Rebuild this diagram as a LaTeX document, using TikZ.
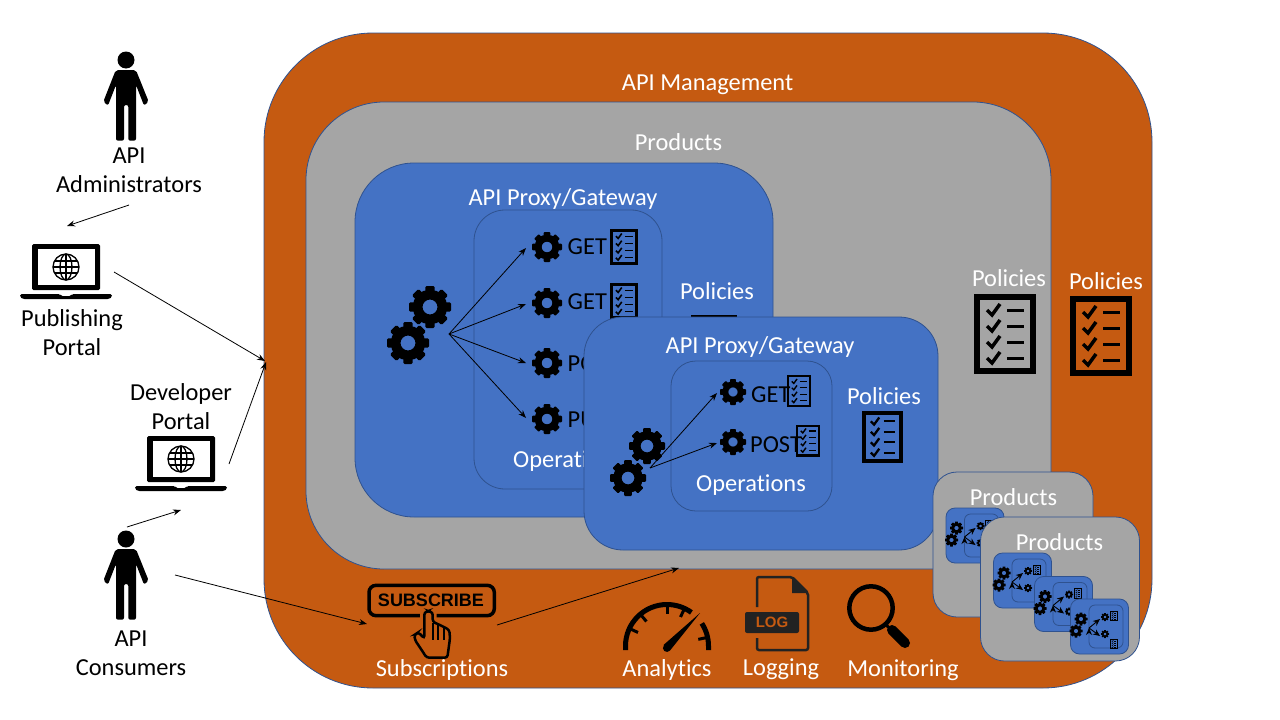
\documentclass[tikz,border=0pt]{standalone}
\usepackage{fontspec}
\setmainfont{Carlito}[Ligatures=NoCommon]
\newfontfamily\iconfont{Liberation Sans}
\usetikzlibrary{arrows.meta}
\definecolor{mgmtorange}{HTML}{C55A11}
\definecolor{productgray}{HTML}{A5A5A5}
\definecolor{proxyblue}{HTML}{4472C4}
\definecolor{edgeblue}{HTML}{2F528F}
\definecolor{logblack}{HTML}{222222}
\tikzset{
	panel/.style={draw=edgeblue, line width=0.8pt, inner sep=0pt, outer sep=0pt},
	whitetext/.style={text=white, inner sep=0pt, align=center, font=\fontsize{24.4}{29}\selectfont},
	blacktext/.style={text=black, inner sep=0pt, align=center, font=\fontsize{24.4}{29}\selectfont},
	wire/.style={->, line width=0.8pt},
	pics/cog/.style={code={
		\draw[line width=#1*0.46pt] (0,0) circle[radius=0.59*#1];
		\foreach \a in {0,45,...,315}
			\fill[rotate=\a, rounded corners=#1*0.06pt] (-0.22*#1,0.7*#1) rectangle (0.22*#1,#1);
	}},
	pics/policy/.style={code={
		\begin{scope}[scale=#1]
			\draw[line width=#1*6pt] (-28,-37) rectangle (28,37);
			\foreach \y in {-24,-8,8,24} {
				\draw[line width=#1*3.5pt] (-18,\y) -- (-13,\y-5) -- (-5,\y+6);
				\draw[line width=#1*3pt] (2,\y) -- (19,\y);
			}
		\end{scope}
	}},
	pics/person/.style={code={
		\fill (0,40) circle[radius=8.5];
		\fill[rounded corners=2pt] (-10.3,29.8) -- (10,29.8) -- (22.7,-1.7) -- (18,-5.5) -- (10,15) -- (10,-40.7)
			-- (2.3,-40.7) -- (2.3,-5) -- (-2,-5) -- (-2,-40.7) -- (-10,-40.7) -- (-10,15) -- (-18,-5.5) -- (-22.7,-1.7) -- cycle;
	}},
	pics/laptop/.style={code={
		\fill[rounded corners=1.5pt] (-34,26) rectangle (34,-20);
		\fill[white] (-28.5,21) rectangle (28.5,-14.5);
		\fill[rounded corners=1.5pt] (-46,-24) -- (-6,-24) -- (-5,-26) -- (5,-26) -- (6,-24) -- (46,-24) -- (46,-27) -- (43,-29) -- (-43,-29) -- (-46,-27) -- cycle;
		\draw[line width=1.3pt] (0,3) circle[radius=13];
		\draw[line width=1.3pt] (0,3) ellipse[x radius=6, y radius=13];
		\draw[line width=1.3pt] (-13,3) -- (13,3) (0,16) -- (0,-10) (-11,9) -- (11,9) (-11,-3) -- (11,-3);
	}},
	pics/minicard/.style={code={
		\node[panel, fill=proxyblue, rounded corners=9pt, minimum width=58pt, minimum height=55pt] (-card) at (0,0) {};
		\node[panel, rounded corners=6pt, minimum width=34pt, minimum height=43pt] (-ops) at (6.5,0) {};
		\pic at (-18.5,7.5) {cog=6.5};
		\pic at (-23.5,-4.5) {cog=6.5};
		\pic at (5.5,9.5) {cog=4};
		\pic at (5.5,-7.5) {cog=4};
		\pic at (14.5,10.5) {policy=0.13};
		\coordinate (-hub) at (-10.5,-1.5);
		\coordinate (-up) at (0.5,7.5);
		\coordinate (-down) at (0.5,-9.5);
		\draw[->, >={Stealth[width=6pt,length=7pt]}, line width=0.9pt] (-hub) edge (-up) edge (-down);
	}}
}

\begin{document}
\begin{tikzpicture}[x=1pt, y=1pt, >={Stealth[width=6pt,length=8pt]}]
	\useasboundingbox (0,0) rectangle (1280,-720);
	\fill[white] (0,0) rectangle (1280,-720);
	% panels
	\node[panel, fill=mgmtorange, rounded corners=109pt, minimum width=888pt, minimum height=655pt] (mgmt) at (708,-360.5) {};
	\node[panel, fill=productgray, rounded corners=78pt, minimum width=745pt, minimum height=467pt] (products) at (678.5,-335.5) {};
	\node[whitetext] (mgmttitle) at (707.5,-85) {API Management};
	\node[whitetext] (productstitle) at (678.5,-142) {Products};
	\node[whitetext] (orangepolicies) at (1106,-281) {Policies};
	\node[whitetext] (graypolicies) at (1009,-278) {Policies};
	\pic at (1005,-334) {policy=1};
	\pic at (1101,-336) {policy=1};

	% first proxy
	\node[panel, fill=proxyblue, rounded corners=59pt, minimum width=418pt, minimum height=354pt] (proxyA) at (564,-340) {};
	\node[panel, rounded corners=31pt, minimum width=188pt, minimum height=279pt] (opsA) at (568,-349.5) {};
	\node[whitetext] (proxyAtitle) at (563,-199) {API Proxy/Gateway};
	\node[whitetext] (opsAtitle) at (568,-461) {Operations};
	\node[whitetext] (policiesA) at (717,-291) {Policies};
	\pic at (714,-345) {policy=0.74};
	\pic at (430,-307) {cog=21};
	\pic at (408,-343) {cog=21};
	\draw (449,-334) coordinate(hubA);
	\draw (526,-248) coordinate(getA);
	\draw (526,-304) coordinate(getB);
	\draw (526,-363) coordinate(postA);
	\draw (526,-418) coordinate(putA);
	\pic at (547,-247) {cog=15};
	\pic at (547,-303) {cog=15};
	\pic at (547,-363) {cog=15};
	\pic at (547,-419) {cog=15};
	\node[blacktext, anchor=west] (getAtext) at (567.5,-247) {GET};
	\node[blacktext, anchor=west] (getBtext) at (567.5,-302) {GET};
	\node[blacktext, anchor=west] (postAtext) at (567.5,-364) {POST};
	\node[blacktext, anchor=west] (putAtext) at (567.5,-420) {PUT};
	\pic at (624,-247) {policy=0.45};
	\pic at (624,-301) {policy=0.45};
	\draw[wire] (hubA) -- (getA);
	\draw[wire] (hubA) -- (getB);
	\draw[wire] (hubA) -- (postA);
	\draw[wire] (hubA) -- (putA);

	% second proxy
	\node[panel, fill=proxyblue, rounded corners=39pt, minimum width=354pt, minimum height=233pt] (proxyB) at (761,-433.5) {};
	\node[panel, rounded corners=25pt, minimum width=161pt, minimum height=150pt] (opsB) at (751.5,-436) {};
	\node[whitetext] (proxyBtitle) at (760,-347) {API Proxy/Gateway};
	\node[whitetext] (opsBtitle) at (751,-485) {Operations};
	\node[whitetext] (policiesB) at (884,-396) {Policies};
	\pic at (882.5,-437) {policy=0.65};
	\pic at (647,-446) {cog=18};
	\pic at (628,-478) {cog=18};
	\draw (650,-468) coordinate(hubB);
	\draw (717,-393) coordinate(getC);
	\draw (717,-443) coordinate(postB);
	\pic at (733,-392) {cog=13};
	\pic at (733,-442) {cog=13};
	\node[blacktext, anchor=west] (getCtext) at (751,-394.5) {GET};
	\node[blacktext, anchor=west] (postBtext) at (750,-444.5) {POST};
	\pic at (799,-391) {policy=0.4};
	\pic at (808,-440.5) {policy=0.4};
	\draw[wire] (hubB) -- (getC);
	\draw[wire] (hubB) -- (postB);

	% product stacks
	\node[panel, fill=productgray, rounded corners=24pt, minimum width=160pt, minimum height=145pt] (productsB) at (1013,-544.5) {};
	\node[whitetext] (productsBtitle) at (1013.5,-497) {Products};
	\pic at (975,-535.5) {minicard};
	\node[panel, fill=productgray, rounded corners=24pt, minimum width=159pt, minimum height=144pt] (productsC) at (1060,-589) {};
	\node[whitetext] (productsCtitle) at (1059.5,-542) {Products};
	\pic at (1022.5,-580.5) {minicard};
	\pic at (1063.5,-604) {minicard};
	\pic at (1099.5,-626.5) {minicard};
	\pic at (1114,-644) {policy=0.13};

	% people and portals
	\pic at (126,-100) {person};
	\node[blacktext] (admins) at (129,-170) {API\\Administrators};
	\pic at (66,-270) {laptop};
	\node[blacktext] (publishing) at (72,-332.5) {Publishing\\Portal};
	\node[blacktext] (developer) at (181,-406.5) {Developer\\Portal};
	\pic at (181,-462) {laptop};
	\pic at (126,-579) {person};
	\node[blacktext] (consumers) at (131,-653.5) {API\\Consumers};

	% subscribe button
	\begin{scope}[shift={(360,-575)}, x=0.3333pt, y=-0.3333pt]
		\draw[line width=3.5pt, rounded corners=7pt] (180,122) -- (27,122) -- (27,31) -- (403,31) -- (403,122) -- (230,122);
		\draw[line width=2.5pt, rounded corners=2.5pt] (193,190) -- (193,112) -- (205,108) -- (218,112) -- (218,140) -- (235,148) -- (250,155) -- (268,165) -- (270,190) -- (262,248) -- (200,248) -- (165,195) -- (163,180) -- (175,172) -- cycle;
		\draw[line width=2pt] (218,145) -- (218,195) (235,150) -- (235,195) (252,158) -- (252,195);
	\end{scope}
	\node[inner sep=0pt, font=\iconfont\bfseries\fontsize{18}{20}\selectfont] (subscribe) at (431,-600.5) {SUBSCRIBE};
	\node[whitetext] (subscriptions) at (442,-670) {Subscriptions};

	% analytics gauge
	\draw[line width=5pt] (625.5,-650) -- (625.5,-646) arc[start angle=180, end angle=54, radius=41.5];
	\draw[line width=5pt] (708.5,-650) -- (708.5,-646) arc[start angle=0, end angle=33, radius=41.5];
	\foreach \a in {155,130,90,65,12}
		\draw[line width=3pt] (667,-646) ++(\a:40) -- ++(\a:-8);
	\fill (663.5,-645) -- (700,-613) -- (670,-650.5) arc[start angle=-40, end angle=-220, radius=4] -- cycle;
	\node[whitetext] (analytics) at (667,-670) {Analytics};

	% log file
	\draw[logblack, line width=2.5pt, rounded corners=2pt] (757,-607) -- (757,-577) -- (792,-577) -- (808,-593) -- (808,-650) -- (757,-650) -- (757,-638);
	\fill[logblack] (792,-577) -- (808,-593) -- (792,-593) -- cycle;
	\node[fill=logblack, rounded corners=2pt, minimum width=54pt, minimum height=21pt, inner sep=0pt, text=mgmtorange, font=\iconfont\bfseries\fontsize{15}{16}\selectfont] (logband) at (772,-622.5) {LOG};
	\node[whitetext] (logging) at (781,-669) {Logging};

	% magnifier
	\draw[line width=4.5pt] (871,-608) circle[radius=21.7];
	\draw[line width=3pt] (886,-625) -- (893,-631);
	\draw[line width=10pt, line cap=round] (892,-630) -- (905,-643);
	\node[whitetext] (monitoring) at (903,-670) {Monitoring};

	% outer connectors
	\draw (129,-205) coordinate(adminsout);
	\draw (67,-226) coordinate(publishingin);
	\draw (114,-272) coordinate(publishingout);
	\draw (265,-361) coordinate(mgmtinA);
	\draw (229,-464) coordinate(developerout);
	\draw (266,-362) coordinate(mgmtinB);
	\draw (127,-527) coordinate(consumersup);
	\draw (181,-510) coordinate(developerin);
	\draw (175,-575) coordinate(consumersout);
	\draw (367,-624) coordinate(subscribein);
	\draw (497,-625) coordinate(subscribeout);
	\draw (679,-568) coordinate(productsin);
	\draw[wire] (adminsout) -- (publishingin);
	\draw[wire] (publishingout) -- (mgmtinA);
	\draw[wire] (developerout) -- (mgmtinB);
	\draw[wire] (consumersup) -- (developerin);
	\draw[wire] (consumersout) -- (subscribein);
	\draw[wire] (subscribeout) -- (productsin);
\end{tikzpicture}
\end{document}
